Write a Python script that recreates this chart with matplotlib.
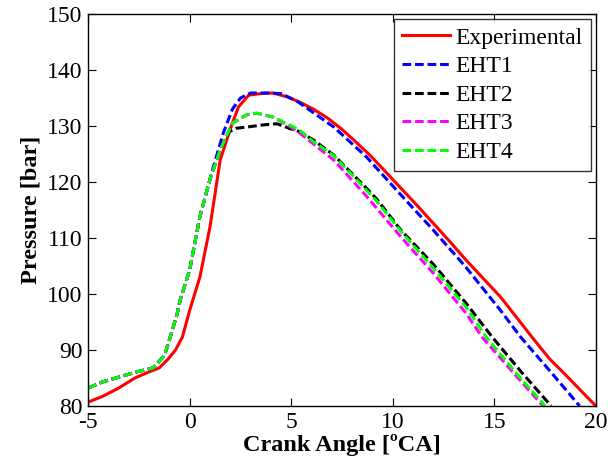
import numpy as np
import matplotlib.pyplot as plt

# Cylinder pressure vs crank angle: measured trace and four heat-transfer models
exp_ca = [-5.0, -4.3, -3.5, -2.7, -2.0, -1.5, -1.06, -0.7, -0.36, 0.0, 0.5, 1.0,
          1.5, 2.0, 2.4, 2.9, 3.5, 4.1, 4.8, 5.4, 6.1, 6.8, 7.5, 8.2, 8.9, 9.5,
          10.4, 11.2, 12.0, 12.8, 13.6, 14.5, 15.3, 16.1, 16.9, 17.7, 18.5, 19.3, 20.0]
exp_p = [80.7, 81.7, 83.2, 85.0, 86.1, 86.8, 88.4, 90.0, 92.3, 97.1, 103.0, 112.0,
         123.9, 129.5, 133.4, 135.5, 135.8, 135.9, 135.2, 134.3, 133.0, 131.4, 129.4, 127.1, 124.7, 122.4,
         118.9, 115.8, 112.6, 109.4, 106.1, 102.6, 99.5, 95.8, 92.1, 88.5, 85.6, 82.6, 80.0]

eht1_ca = [-5.0, -4.3, -2.6, -1.8, -1.3, -1.2, -0.96, -0.62, -0.47, 0.0, 0.5, 1.15,
           1.65, 2.1, 2.5, 3.0, 3.8, 4.5, 5.3, 6.4, 7.1, 8.7, 10.4, 12.0, 13.6,
           15.3, 16.3, 17.8, 19.2]
eht1_p = [83.2, 84.3, 86.1, 86.8, 88.8, 89.5, 92.3, 96.4, 98.9, 104.3, 113.8, 122.5,
          128.7, 133.0, 135.0, 135.9, 135.9, 135.8, 134.4, 131.6, 129.8, 124.5, 117.7, 111.4, 104.8,
          97.1, 92.3, 86.0, 80.0]

eht2_ca = [-5.0, -4.3, -2.6, -1.8, -1.3, -1.2, -0.96, -0.62, -0.47, 0.0, 0.5, 1.0,
           1.5, 1.95, 2.3, 3.0, 3.6, 4.3, 4.9, 5.4, 6.1, 7.1, 8.7, 9.2, 10.4, 12.0,
           13.6, 14.9, 16.3, 17.8]
eht2_p = [83.2, 84.3, 86.1, 86.8, 88.8, 89.5, 92.3, 96.4, 98.9, 104.3, 113.8, 120.5,
          125.7, 129.0, 129.6, 129.9, 130.2, 130.4, 129.6, 129.0, 127.5, 124.8, 118.9, 117.0, 111.4, 105.3,
          98.4, 92.3, 86.2, 80.0]

eht3_ca = [-5.0, -4.3, -2.6, -1.8, -1.3, -1.2, -0.96, -0.62, -0.47, 0.0, 0.5, 1.0,
           1.5, 2.1, 2.8, 3.3, 4.1, 4.9, 5.4, 6.1, 7.1, 8.7, 10.4, 12.0, 13.6,
           14.4, 15.9, 17.4]
eht3_p = [83.2, 84.3, 86.1, 86.8, 88.8, 89.5, 92.3, 96.4, 98.9, 104.3, 113.8, 120.5,
          125.7, 130.5, 132.0, 132.3, 131.6, 130.0, 128.8, 126.8, 123.9, 117.5, 110.2, 103.7, 96.6,
          92.3, 86.1, 80.0]

eht4_ca = [-5.0, -4.3, -2.6, -1.8, -1.3, -1.2, -0.96, -0.62, -0.47, 0.0, 0.5, 1.0,
           1.5, 2.1, 2.8, 3.3, 4.1, 4.9, 5.4, 6.1, 7.1, 8.2, 9.2, 10.4, 12.0,
           13.6, 14.6, 16.0, 17.5]
eht4_p = [83.2, 84.3, 86.1, 86.8, 88.8, 89.5, 92.3, 96.4, 98.9, 104.3, 113.8, 120.5,
          125.7, 130.5, 132.0, 132.3, 131.6, 130.2, 129.3, 127.2, 124.7, 120.5, 116.6, 111.2, 104.6,
          97.7, 92.3, 86.2, 80.0]

plt.rcParams['font.family'] = ['Liberation Serif', 'DejaVu Serif']
plt.rcParams['axes.unicode_minus'] = False

fig = plt.figure(figsize=(6.08, 4.68), dpi=100)
ax = fig.add_axes([0.145, 0.1325, 0.835, 0.8375])

dash = (0, (2.85, 1.25))
ax.plot(exp_ca, exp_p, color='#ff0000', lw=2.2, label='Experimental')
ax.plot(eht1_ca, eht1_p, color='#0000ff', lw=2.2, ls=dash, label='EHT1')
ax.plot(eht2_ca, eht2_p, color='#000000', lw=2.2, ls=dash, label='EHT2')
ax.plot(eht3_ca, eht3_p, color='#ff00ff', lw=2.2, ls=dash, label='EHT3')
ax.plot(eht4_ca, eht4_p, color='#00ff00', lw=2.2, ls=dash, label='EHT4')

ax.set_xlim(-5, 20)
ax.set_ylim(80, 150)
ax.set_xticks(np.arange(-5, 21, 5))
ax.set_yticks(np.arange(80, 151, 10))
ax.tick_params(direction='in', top=True, right=True, labelsize=17, length=6, width=0.8, pad=4)
for s in ax.spines.values():
    s.set_linewidth(1.0)

ax.set_xlabel('Crank Angle [ºCA]', fontsize=17.5, fontweight='bold', labelpad=1)
ax.set_ylabel('Pressure [bar]', fontsize=17.5, fontweight='bold', labelpad=4)

leg = ax.legend(loc='upper right', fontsize=17, frameon=True, fancybox=False,
                edgecolor='black', borderaxespad=0.2, handlelength=2.0,
                handletextpad=0.25, labelspacing=0.3, borderpad=0.35)
leg.get_frame().set_linewidth(1.0)

fig.savefig('out.png', dpi=100)
